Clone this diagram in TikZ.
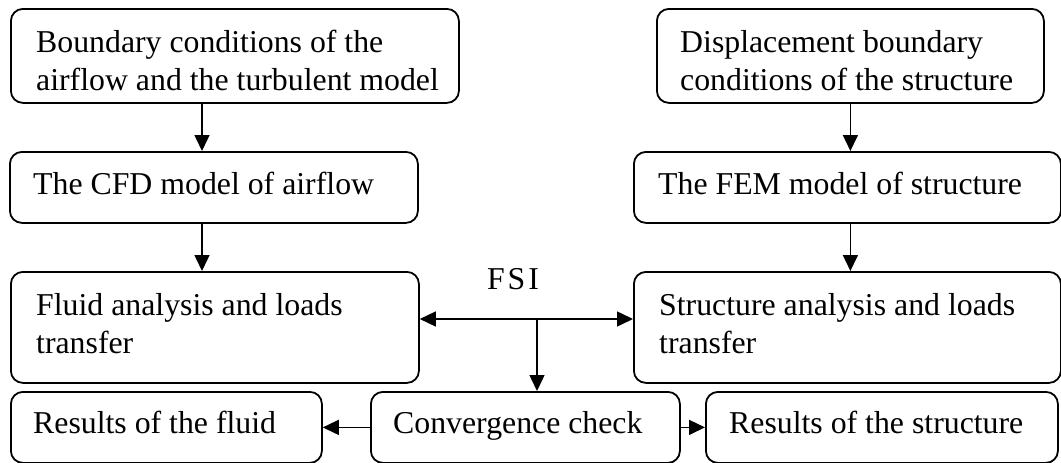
\documentclass[tikz,border=0pt]{standalone}
\usepackage{fontspec}
\setmainfont{Liberation Serif}
\usetikzlibrary{arrows.meta}
\begin{document}
\begin{tikzpicture}[x=1pt,y=-1pt,
  box/.style={draw, line width=1.8pt, rounded corners=12pt, anchor=north west, inner sep=0pt},
  txt/.style={anchor=base west, inner sep=0pt, font=\fontsize{31.8}{38}\selectfont},
  arr/.style={line width=1.5pt, -{Triangle[length=16pt,width=15pt]}}]
\useasboundingbox (0,0) rectangle (1061,463);
% boxes
\node[box, minimum width=448pt, minimum height=94pt] (bc) at (10,8) {};
\node[box, minimum width=387pt, minimum height=94pt] (disp) at (656,8) {};
\node[box, minimum width=408pt, minimum height=71pt] (cfd) at (9,151) {};
\node[box, minimum width=427pt, minimum height=71pt] (fem) at (633,151) {};
\node[box, minimum width=408pt, minimum height=111pt] (fluid) at (10,271) {};
\node[box, minimum width=427pt, minimum height=111pt] (struct) at (633,271) {};
\node[box, minimum width=311pt, minimum height=71pt] (resf) at (10,391) {};
\node[box, minimum width=309pt, minimum height=71pt] (conv) at (370,391) {};
\node[box, minimum width=352pt, minimum height=71pt] (ress) at (705,391) {};
% texts
\node[txt] (t1a) at (36,52) {Boundary conditions of the};
\node[txt] (t1b) at (36,90) {airflow and the turbulent model};
\node[txt] (t2a) at (680,52) {Displacement boundary};
\node[txt] (t2b) at (680,90) {conditions of the structure};
\node[txt] (t3) at (33,194) {The CFD model of airflow};
\node[txt] (t4) at (658,194) {The FEM model of structure};
\node[txt] (t5a) at (36,315) {Fluid analysis and loads};
\node[txt] (t5b) at (36,353) {transfer};
\node[txt] (t6a) at (659,315) {Structure analysis and loads};
\node[txt] (t6b) at (659,353) {transfer};
\node[txt] (t7) at (33,433) {Results of the fluid};
\node[txt] (t8) at (393,433) {Convergence check};
\node[txt] (t9) at (729,433) {Results of the structure};
\node[txt, anchor=base] (fsi) at (513,289) {F\kern3pt S\kern3pt I};
% connectors
\coordinate (a1) at (202,0);
\coordinate (j) at (537,319);
\draw[arr] (bc.south -| a1) -- (cfd.north -| a1);
\draw[arr] (cfd.south -| a1) -- (fluid.north -| a1);
\draw[arr] (disp.south) -- (disp.south |- fem.north);
\draw[arr] (fem.south -| disp.south) -- (struct.north -| disp.south);
\draw[arr] (j) -- (fluid.east |- j);
\draw[arr] (j) -- (struct.west |- j);
\draw[arr] (j) -- (j |- conv.north);
\draw[arr] (conv.west) -- (resf.east);
\draw[arr] (conv.east) -- (ress.west);
\end{tikzpicture}
\end{document}
